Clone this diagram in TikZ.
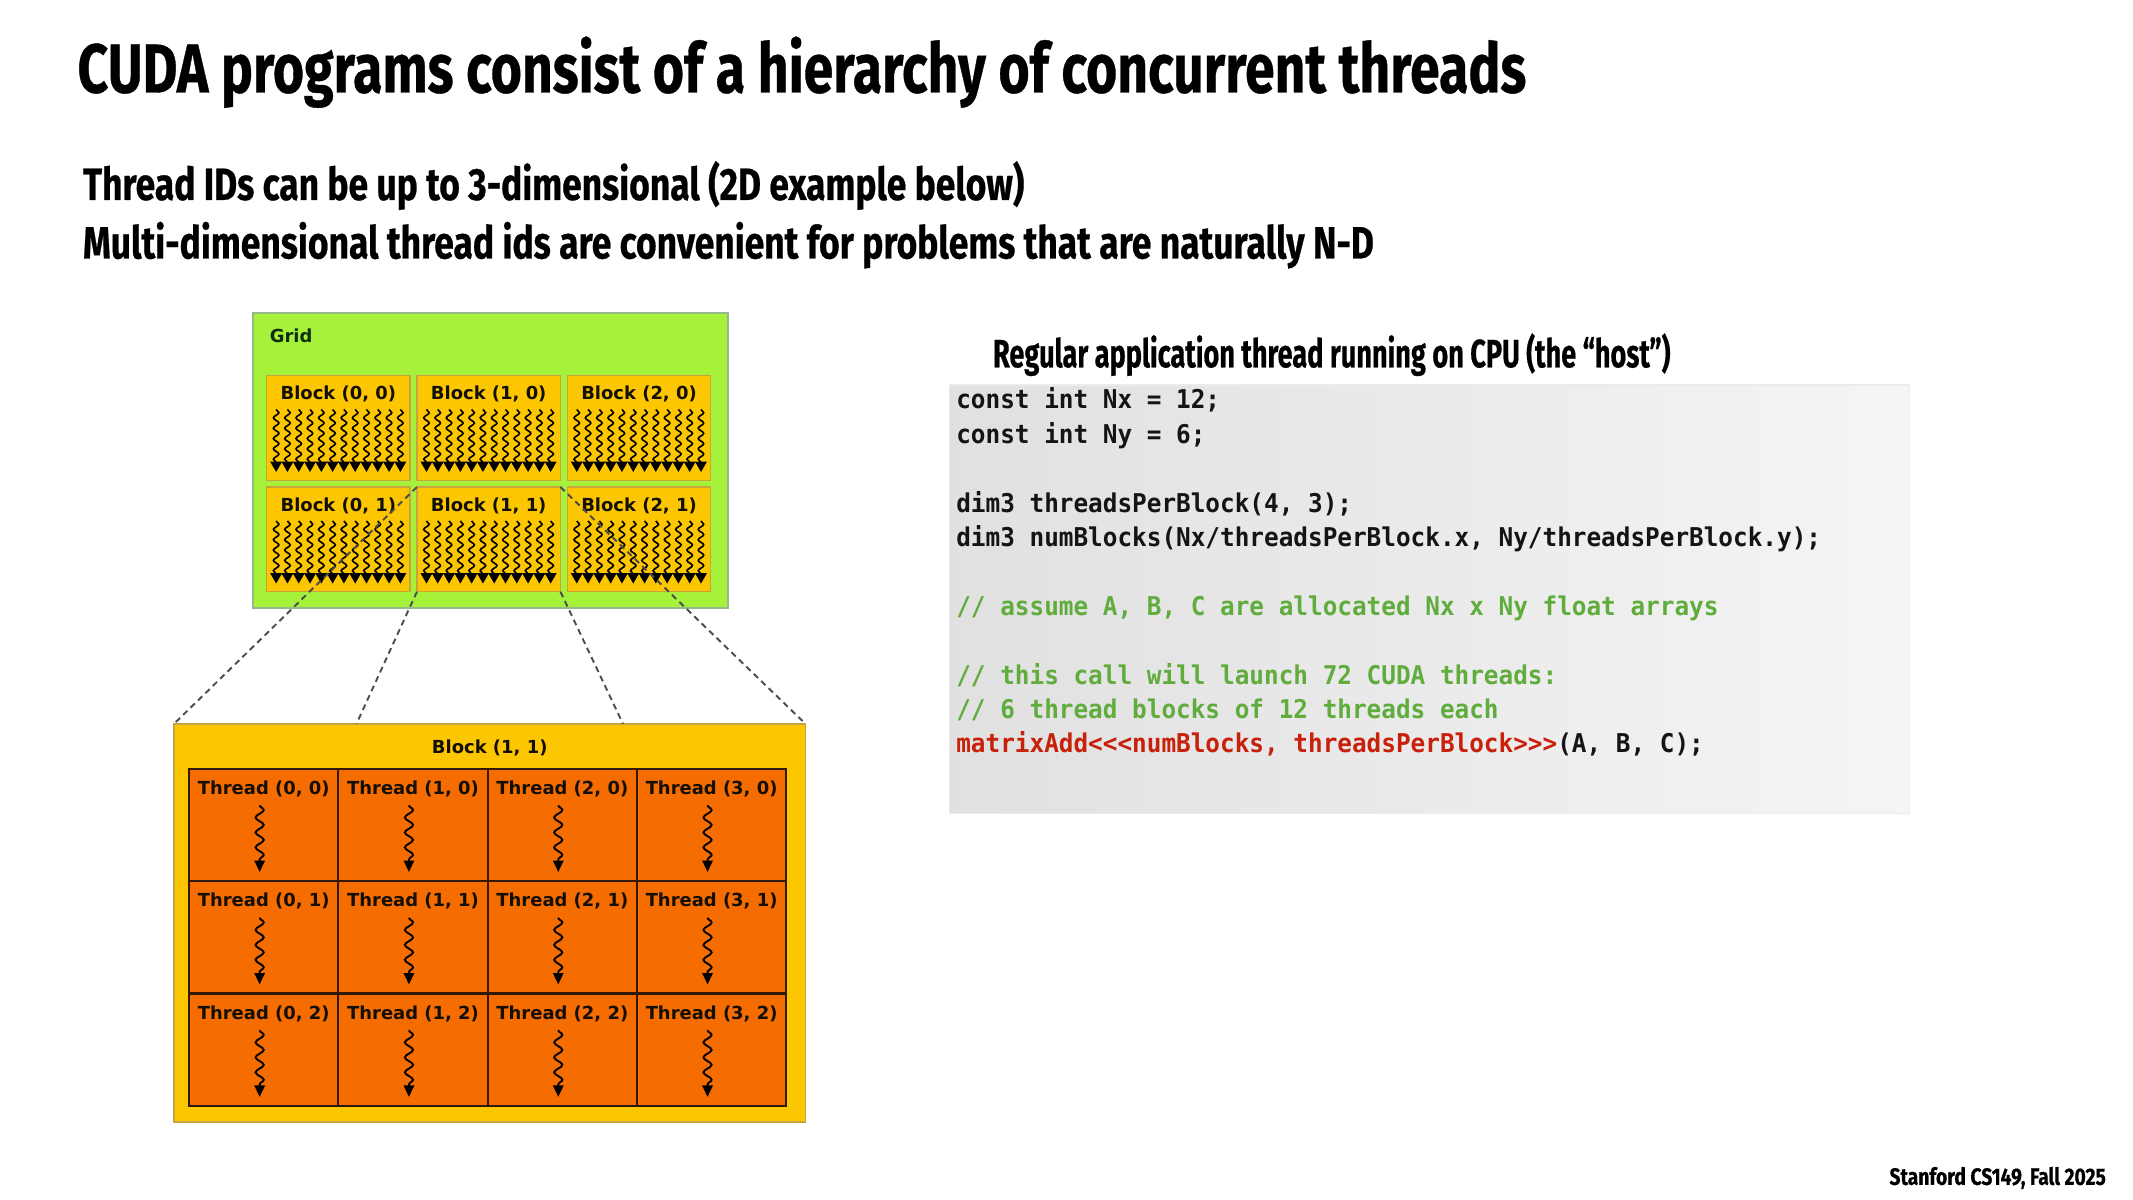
\documentclass[tikz,border=0pt]{standalone}
\usepackage{fontspec}
\usepackage{graphicx}
\usetikzlibrary{calc,decorations.pathmorphing,arrows.meta}
\newfontfamily\slidefont{Fira Sans}[BoldFeatures={FakeBold=0.6}]
\newfontfamily\figfont{DejaVu Sans}
\newfontfamily\codefont{DejaVu Sans Mono}[FakeStretch=0.942]
\definecolor{gridgreen}{RGB}{166,242,58}
\definecolor{gridborder}{RGB}{150,185,140}
\definecolor{gold}{RGB}{252,198,0}
\definecolor{goldborder}{RGB}{200,165,60}
\definecolor{thorange}{RGB}{245,108,0}
\definecolor{thborder}{RGB}{50,25,5}
\definecolor{lbltext}{RGB}{20,15,5}
\definecolor{gridlbl}{RGB}{15,45,15}
\definecolor{codegreen}{RGB}{96,172,60}
\definecolor{codered}{RGB}{200,32,10}
\definecolor{codeblack}{RGB}{20,20,20}
\newsavebox\fitbox
\newlength\fitlen
\newcommand\fitw[2]{\sbox\fitbox{#2}\setlength\fitlen{\wd\fitbox}\pgfmathsetmacro\fitr{#1/\fitlen}\scalebox{\fitr}[1]{\usebox\fitbox}}
\begin{document}
\begin{tikzpicture}[x=0.5pt,y=-0.5pt,
  txt/.style={inner sep=0pt, outer sep=0pt, anchor=base west},
  box/.style={rectangle, inner sep=0pt, outer sep=0pt, anchor=north west},
  lbl/.style={inner sep=0pt, outer sep=0pt, anchor=base, text=lbltext, font=\figfont\bfseries\fontsize{6.6pt}{8pt}\selectfont},
  codeln/.style={inner sep=0pt, outer sep=0pt, anchor=base west, text=codeblack, font=\codefont\bfseries\fontsize{9.5pt}{11pt}\selectfont},
  bthread/.style={line width=0.6pt, draw=black, decorate,
    decoration={snake, amplitude=1pt, segment length=3.8pt, post length=3pt},
    -{Triangle[width=4.2pt,length=3.8pt]}},
  tthread/.style={line width=0.7pt, draw=black, decorate,
    decoration={snake, amplitude=1.5pt, segment length=5.5pt, post length=3.5pt},
    -{Triangle[width=3.8pt,length=4.2pt]}},
  dashline/.style={draw=black!70, line width=0.7pt, dash pattern=on 2.2pt off 1.6pt}
]
\useasboundingbox[fill=white] (0,0) rectangle (1568,882);

% headings
\node[txt] (title) at (57,68) {\fitw{532.5pt}{\fontsize{25.4pt}{30pt}\slidefont\bfseries CUDA programs consist of a hierarchy of concurrent threads}};
\node[txt] (sub1) at (61,147) {\fitw{346pt}{\fontsize{16.6pt}{20pt}\slidefont\bfseries Thread IDs can be up to 3-dimensional (2D example below)}};
\node[txt] (sub2) at (61,190) {\fitw{474.5pt}{\fontsize{16.6pt}{20pt}\slidefont\bfseries Multi-dimensional thread ids are convenient for problems that are naturally N-D}};
\node[txt] (host) at (730,270) {\fitw{249pt}{\fontsize{14.5pt}{17pt}\slidefont\bfseries Regular application thread running on CPU (the “host”)}};
\node[txt] (footer) at (1389,871) {\fitw{79.5pt}{\fontsize{8.7pt}{10pt}\slidefont\bfseries Stanford CS149, Fall 2025}};

% code box
\node[box, minimum width={706*0.5pt}, minimum height={315*0.5pt}, left color=black!12, right color=black!4, draw=black!8, line width=0.4pt] (codebox) at (698,283) {};
\node[codeln] (c1) at (703,300.5) {const int Nx = 12;};
\node[codeln] (c2) at (703,325.8) {const int Ny = 6;};
\node[codeln] (c3) at (703,376.4) {dim3 threadsPerBlock(4, 3);};
\node[codeln] (c4) at (703,401.7) {dim3 numBlocks(Nx/threadsPerBlock.x, Ny/threadsPerBlock.y);};
\node[codeln, text=codegreen] (c5) at (703,452.3) {// assume A, B, C are allocated Nx x Ny float arrays};
\node[codeln, text=codegreen] (c6) at (703,502.9) {// this call will launch 72 CUDA threads:};
\node[codeln, text=codegreen] (c7) at (703,528.2) {// 6 thread blocks of 12 threads each};
\node[codeln] (c8) at (703,553.5) {\textcolor{codered}{matrixAdd<{}<{}<numBlocks, threadsPerBlock>{}>{}>}(A, B, C);};

% grid
\node[box, minimum width={349*0.5pt}, minimum height={217*0.5pt}, fill=gridgreen, draw=gridborder, line width=0.6pt] (grid) at (186,230) {};
\node[inner sep=0pt, anchor=base west, text=gridlbl, font=\figfont\bfseries\fontsize{6.6pt}{8pt}\selectfont] (gridlabel) at (198,252) {Grid};

\foreach \c in {0,1,2} {
  \foreach \r in {0,1} {
    \pgfmathsetmacro\bx{196+\c*110.5}
    \pgfmathsetmacro\by{276+\r*82}
    \node[box, minimum width={105.5*0.5pt}, minimum height={77*0.5pt}, fill=gold, draw=goldborder, line width=0.5pt] (b\c\r) at (\bx,\by) {};
    \node[lbl] (lb\c\r) at ($(b\c\r.north)+(0,18)$) {Block (\c, \r)};
    \foreach \k in {0,...,11} {
      \draw[bthread] ($(b\c\r.north west)+(7+\k*8.3,25)$) -- ++(0,46);
    }
  }
}

% big block
\node[box, minimum width={464*0.5pt}, minimum height={293*0.5pt}, fill=gold, draw=goldborder, line width=0.6pt] (bb) at (128,532) {};
\node[lbl] (bblabel) at (360,554) {Block (1, 1)};
\foreach \i in {0,1,2,3} {
  \foreach \j in {0,1,2} {
    \pgfmathsetmacro\tx{139+\i*109.75}
    \pgfmathsetmacro\ty{565+\j*82.667}
    \node[box, minimum width={109.75*0.5pt}, minimum height={82.667*0.5pt}, fill=thorange, draw=thborder, line width=0.75pt] (t\i\j) at (\tx,\ty) {};
    \node[lbl] (lt\i\j) at ($(t\i\j.north)+(0,19)$) {Thread (\i, \j)};
    \draw[tthread] ($(t\i\j.north)+(-3,27)$) -- ++(0,49);
  }
}

% zoom connectors
\coordinate (bbq1) at ($(bb.north west)!0.289!(bb.north east)$);
\coordinate (bbq2) at ($(bb.north west)!0.711!(bb.north east)$);
\draw[dashline] (b11.north west) -- (bb.north west);
\draw[dashline] (b11.south west) -- (bbq1);
\draw[dashline] (b11.south east) -- (bbq2);
\draw[dashline] (b11.north east) -- (bb.north east);
\end{tikzpicture}
\end{document}
